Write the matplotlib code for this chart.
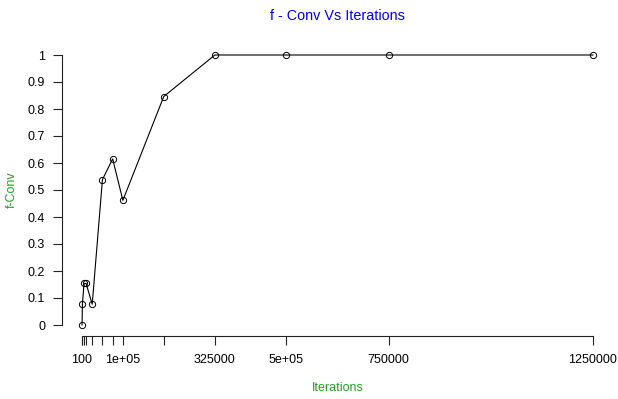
import matplotlib
matplotlib.use("Agg")
import matplotlib.pyplot as plt

plt.rcParams['font.family'] = ['Liberation Sans', 'DejaVu Sans']

# iterations and f-Conv values (multiples of 1/13)
iterations = [100, 1000, 5000, 10000, 25000, 50000, 75000, 100000,
              200000, 325000, 500000, 750000, 1250000]
f_conv = [0, 1/13, 2/13, 2/13, 1/13, 7/13, 8/13, 6/13,
          11/13, 1, 1, 1, 1]
x_tick_labels = ["100", "", "", "", "", "", "", "1e+05",
                 "", "325000", "5e+05", "750000", "1250000"]
y_ticks = [0, 0.1, 0.2, 0.3, 0.4, 0.5, 0.6, 0.7, 0.8, 0.9, 1]
y_tick_labels = ["0", "0.1", "0.2", "0.3", "0.4", "0.5", "0.6", "0.7", "0.8", "0.9", "1"]

W, H = 618, 399
fig = plt.figure(figsize=(W / 100, H / 100), dpi=100)
# plot region in pixels (R style, 4% padding around data)
left, right, top, bottom = 61.6, 613.4, 44.2, 335.8
ax = fig.add_axes([left / W, 1 - bottom / H, (right - left) / W, (bottom - top) / H])

ax.plot(iterations, f_conv, color='black', lw=0.8, marker='o', ms=4.5,
        mfc='none', mec='black', mew=0.7)

xmin, xmax = min(iterations), max(iterations)
pad = 0.04 * (xmax - xmin)
ax.set_xlim(xmin - pad, xmax + pad)
ax.set_ylim(-0.04, 1.04)

for s in ['top', 'right']:
    ax.spines[s].set_visible(False)
ax.spines['left'].set_bounds(0, 1)
ax.spines['bottom'].set_bounds(xmin, xmax)
for s in ['left', 'bottom']:
    ax.spines[s].set_linewidth(0.8)
    ax.spines[s].set_color('#222222')

ax.set_xticks(iterations)
ax.set_xticklabels(x_tick_labels, fontsize=9)
ax.set_yticks(y_ticks)
ax.set_yticklabels(y_tick_labels, fontsize=9)
ax.tick_params(axis='both', direction='out', length=6.3, width=0.8, color='#222222')
ax.tick_params(axis='y', pad=5.5)
ax.tick_params(axis='x', pad=7)

fig.text((left + right) / 2 / W, 1 - 16 / H, "f - Conv Vs Iterations",
         color='blue', fontsize=10.4, ha='center', va='center')
fig.text((left + right) / 2 / W, 1 - 388 / H, "Iterations",
         color='#22a022', fontsize=9, ha='center', va='center')
fig.text(12 / W, 1 - (top + bottom) / 2 / H, "f-Conv",
         color='#22a022', fontsize=9, ha='center', va='center', rotation=90)

fig.savefig("out.png", dpi=100)
